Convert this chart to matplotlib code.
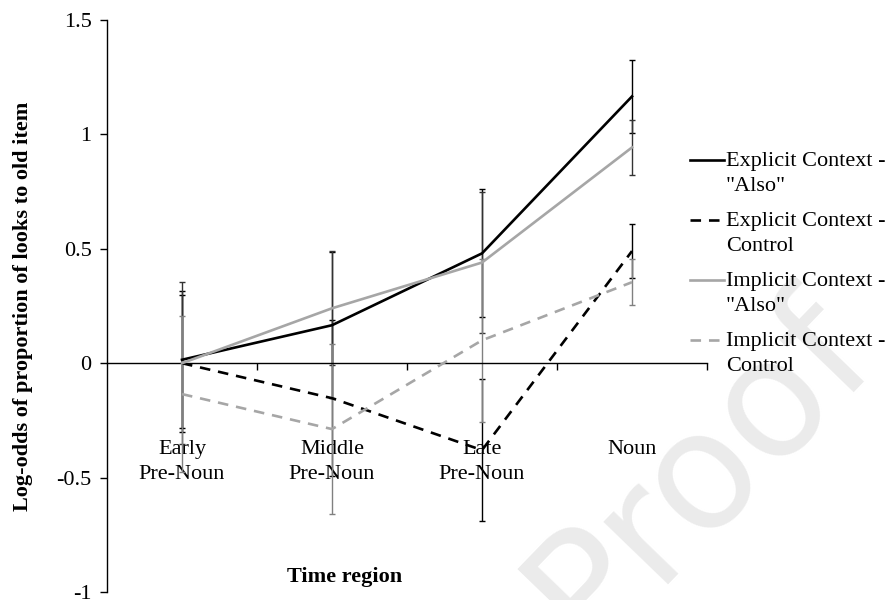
import numpy as np
import matplotlib.pyplot as plt
from matplotlib.lines import Line2D

# -----------------------------
# Data
# -----------------------------
regions = ["Early\nPre-Noun", "Middle\nPre-Noun", "Late\nPre-Noun", "Noun"]

explicit_also = [0.015, 0.166, 0.48, 1.166]
explicit_also_err = [0.30, 0.32, 0.28, 0.16]

explicit_control = [0.0, -0.153, -0.38, 0.49]
explicit_control_err = [0.30, 0.34, 0.31, 0.117]

implicit_also = [0.0, 0.24, 0.44, 0.943]
implicit_also_err = [0.355, 0.25, 0.31, 0.122]

implicit_control = [-0.135, -0.288, 0.10, 0.354]
implicit_control_err = [0.34, 0.37, 0.355, 0.10]

labels = ['Explicit Context -\n"Also"', 'Explicit Context -\nControl',
          'Implicit Context -\n"Also"', 'Implicit Context -\nControl']

yticks = [-1, -0.5, 0, 0.5, 1, 1.5]
ytick_labels = ["-1", "-0.5", "0", "0.5", "1", "1.5"]

# -----------------------------
# Style
# -----------------------------
plt.rcParams['font.family'] = ['Liberation Serif', 'DejaVu Serif']
fs = 16
GRAY = '#a6a6a6'

series = [
    (explicit_also, explicit_also_err, 'black', '-', 'black'),
    (explicit_control, explicit_control_err, 'black', '--', 'black'),
    (implicit_also, implicit_also_err, GRAY, '-', '#333333'),
    (implicit_control, implicit_control_err, GRAY, '--', '#808080'),
]

fig = plt.figure(figsize=(8.93, 6.0), dpi=100)
ax = fig.add_axes([107 / 893, 8 / 600, 600 / 893, 572 / 600])

x = np.arange(len(regions))

# faint "Proof" watermark in the background
fig.text(700 / 893, 1 - 470 / 600, "Proof", fontsize=118, color='#ebebeb',
         rotation=46, ha='center', va='center', family='DejaVu Sans', zorder=0)

for vals, err, col, ls, ecol in series:
    ax.errorbar(x, vals, yerr=err, fmt='none', ecolor=ecol, elinewidth=1.0,
                capsize=2.5, capthick=1.0, zorder=2)
for vals, err, col, ls, ecol in series:
    line, = ax.plot(x, vals, color=col, lw=1.9, ls=ls, zorder=3)
    if ls == '--':
        line.set_dashes((4, 3))

# -----------------------------
# Axes formatting
# -----------------------------
ax.set_xlim(-0.5, 3.5)
ax.set_ylim(-1, 1.5)
ax.patch.set_alpha(0)

ax.spines['top'].set_visible(False)
ax.spines['right'].set_visible(False)
ax.spines['bottom'].set_position(('data', 0))
ax.spines['left'].set_linewidth(1.0)
ax.spines['bottom'].set_linewidth(1.0)

ax.set_xticks([0.5, 1.5, 2.5, 3.5])
ax.set_xticklabels([])
ax.tick_params(axis='x', direction='out', length=5, width=1)

ax.set_yticks(yticks)
ax.set_yticklabels(ytick_labels, fontsize=fs)
ax.tick_params(axis='y', direction='out', length=5, width=1, pad=6)

for xi, name in zip(x, regions):
    ax.text(xi, -0.337, name, ha='center', va='top', fontsize=fs,
            linespacing=1.38, zorder=1)

ax.set_ylabel("Log-odds of proportion of looks to old item", fontsize=fs,
              fontweight='bold')
ax.yaxis.set_label_coords(-0.124, 0.5)
fig.text(345 / 893, 1 - 577 / 600, "Time region", fontsize=fs,
         fontweight='bold', ha='center', va='center')

# -----------------------------
# Legend (handle aligned with first text line)
# -----------------------------
for i, (vals, err, col, ls, ecol) in enumerate(series):
    yl = 1 - (160 + 60 * i) / 600
    h = Line2D([690 / 893, 724 / 893], [yl, yl], transform=fig.transFigure,
               color=col, lw=1.9, ls=ls)
    if ls == '--':
        h.set_dashes((4, 3))
    fig.add_artist(h)
    fig.text(726 / 893, 1 - (174 + 60 * i) / 600, labels[i], fontsize=fs,
             ha='left', va='center', linespacing=1.38)

fig.savefig("out.png", dpi=100)
